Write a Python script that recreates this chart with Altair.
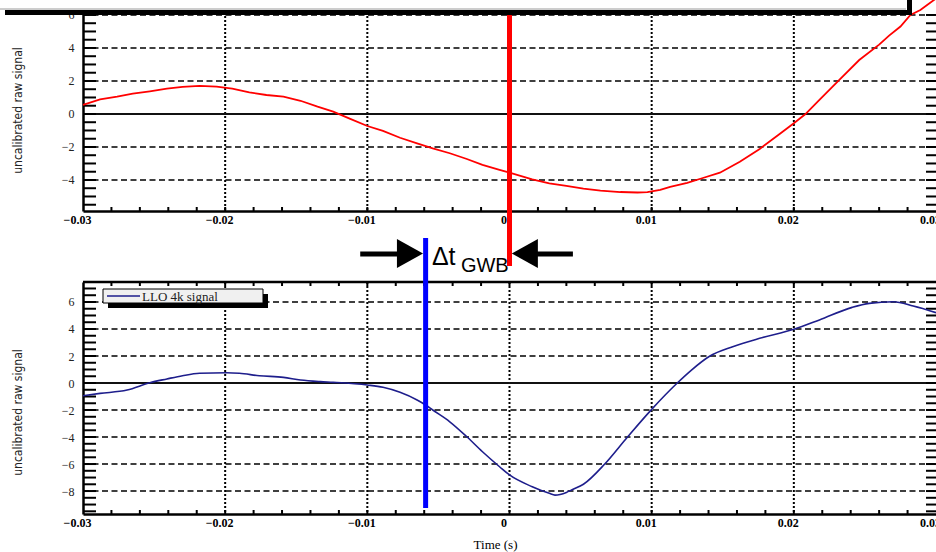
import altair as alt
import numpy as np
import pandas as pd

# ---------------- data ----------------
lho_t = [-0.0300, -0.0288, -0.0276, -0.0265, -0.0253, -0.0241, -0.0230, -0.0218, -0.0206, -0.0195,
         -0.0183, -0.0171, -0.0159, -0.0147, -0.0135, -0.0124, -0.0112, -0.0100, -0.0089, -0.0077,
         -0.0065, -0.0054, -0.0042, -0.0030, -0.0019, -0.0007, 0.0000, 0.0016, 0.0028, 0.0040,
         0.0052, 0.0064, 0.0078, 0.0090, 0.0097, 0.0101, 0.0106, 0.0113, 0.0125, 0.0136,
         0.0148, 0.0162, 0.0176, 0.0190, 0.0200, 0.0208, 0.0218, 0.0232, 0.0246, 0.0260,
         0.0267, 0.0275, 0.0282, 0.0289, 0.0300]
lho_v = [0.55, 0.89, 1.05, 1.23, 1.37, 1.53, 1.64, 1.70, 1.66, 1.53,
         1.31, 1.15, 1.05, 0.80, 0.44, 0.14, -0.30, -0.73, -1.03, -1.44,
         -1.78, -2.08, -2.38, -2.73, -3.09, -3.39, -3.56, -3.96, -4.20, -4.36,
         -4.53, -4.65, -4.73, -4.76, -4.74, -4.68, -4.60, -4.42, -4.18, -3.88,
         -3.56, -2.90, -2.12, -1.21, -0.56, -0.02, 0.85, 2.06, 3.27, 4.20,
         4.75, 5.30, 6.00, 6.30, 7.00]

llo_t = [-0.0300, -0.0288, -0.0269, -0.0253, -0.0241, -0.0230, -0.0218, -0.0199, -0.0190, -0.0176,
         -0.0159, -0.0147, -0.0133, -0.0124, -0.0100, -0.0089, -0.0077, -0.0065, -0.0059, -0.0054,
         -0.0042, -0.0030, -0.0019, -0.0007, 0.0000, 0.0016, 0.0028, 0.0032, 0.0040, 0.0044,
         0.0052, 0.0067, 0.0083, 0.0100, 0.0118, 0.0128, 0.0141, 0.0157, 0.0176, 0.0200,
         0.0218, 0.0241, 0.0253, 0.0270, 0.0284, 0.0300]
llo_v = [-0.94, -0.77, -0.52, 0.02, 0.30, 0.54, 0.72, 0.76, 0.72, 0.54,
         0.42, 0.22, 0.10, 0.05, -0.15, -0.32, -0.69, -1.26, -1.63, -2.00,
         -2.87, -3.98, -5.09, -6.20, -6.81, -7.68, -8.17, -8.30, -8.10, -7.90,
         -7.50, -6.00, -4.00, -1.95, 0.00, 0.96, 2.00, 2.69, 3.31, 3.98,
         4.67, 5.60, 5.90, 6.02, 5.70, 5.21]

t_lho_marker = 0.0
t_llo_marker = -0.0059

x_label_values = [-0.03, -0.02, -0.01, 0.0, 0.01, 0.02, 0.03]
x_grid_values = [-0.02, -0.01, 0.0, 0.01, 0.02]
y_top_labels = [-4, -2, 0, 2, 4, 6]
y_top_grid = [-4, -2, 2, 4, 6]
y_bot_labels = [-8, -6, -4, -2, 0, 2, 4, 6]
y_bot_grid = [-8, -6, -4, -2, 2, 4, 6]
y_top_ticks = np.round(np.arange(-5.5, 6.01, 0.5), 2).tolist()
y_bot_ticks = np.round(np.arange(-9.5, 7.01, 0.5), 2).tolist()
x_minor_ticks = np.round(np.arange(-0.028, 0.0281, 0.002), 4).tolist()

legend_label = "LLO 4k signal"
y_title = "uncalibrated raw signal"
x_title = "Time (s)"
delta_text = "Δt"
delta_sub = "GWB"

# ---------------- layout ----------------
W, H = 936, 552
L, R = 83, 936
TOP_T, TOP_B = 12, 211
BOT_T, BOT_B = 282, 514
RED = "#ff0000"
NAVY = "#1e1e8c"
BLUE = "#0000ff"

xs = alt.Scale(domain=[-0.03, 0.03], range=[L, R], nice=False, zero=False)
ys_top = alt.Scale(domain=[-5.88, 6.18], range=[TOP_B, TOP_T], nice=False, zero=False)
ys_bot = alt.Scale(domain=[-9.70, 7.48], range=[BOT_B, BOT_T], nice=False, zero=False)

one = pd.DataFrame({"a": [0]})


def y_axis(values, title_y):
    return alt.Axis(orient="left", offset=-L, values=values, format="d", grid=False, ticks=False,
                    domain=True, domainColor="black", domainWidth=2.5,
                    labelFont="Liberation Serif", labelFontSize=12, labelColor="#222",
                    labelPadding=9, labelFlush=False,
                    title=y_title, titleFont="DejaVu Sans Condensed", titleFontSize=12,
                    titleFontWeight="normal", titleColor="#222", titleAngle=270,
                    titleAlign="center", titleBaseline="middle", titleX=17 - L, titleY=title_y)


def x_axis(offset, title=None):
    kw = dict(orient="bottom", offset=offset, values=x_label_values, format=".2~f",
              grid=False, ticks=False, domain=True, domainColor="black", domainWidth=2.5,
              labelFont="Liberation Serif", labelFontSize=12, labelFontWeight="bold",
              labelColor="black", labelPadding=3, labelOffset=-6, labelFlush=False)
    if title:
        kw.update(title=title, titleFont="Liberation Serif", titleFontSize=13,
                  titleFontWeight="normal", titleColor="black", titleX=495, titleY=34.5,
                  titleAlign="center", titleBaseline="alphabetic")
    else:
        kw.update(title="")
    return alt.Axis(**kw)


def build_panel(xa, ya, ys, top, bottom, grid_vals, tick_vals, top_ticks):
    X = lambda f: alt.X(f, scale=xs, axis=xa)
    Y = lambda f: alt.Y(f, scale=ys, axis=ya)
    hgrid = alt.Chart(pd.DataFrame({"v": grid_vals})).mark_rule(
        color="black", strokeWidth=1.5, strokeDash=[6, 3.5]).encode(
        y=Y("v:Q"), x=alt.value(L), x2=alt.value(R))
    vgrid = alt.Chart(pd.DataFrame({"t": x_grid_values})).mark_rule(
        color="black", strokeWidth=2, strokeDash=[2, 2]).encode(
        x=X("t:Q"), y=alt.value(top), y2=alt.value(bottom))
    zero = alt.Chart(pd.DataFrame({"v": [0]})).mark_rule(color="#111", strokeWidth=1.8).encode(
        y=Y("v:Q"), x=alt.value(L), x2=alt.value(R))
    lt = alt.Chart(pd.DataFrame({"v": tick_vals})).mark_rule(color="black", strokeWidth=2).encode(
        y=Y("v:Q"), x=alt.value(L), x2=alt.value(L + 13))
    rt = alt.Chart(pd.DataFrame({"v": tick_vals})).mark_rule(color="black", strokeWidth=2).encode(
        y=Y("v:Q"), x=alt.value(R - 10), x2=alt.value(R))
    bt = alt.Chart(pd.DataFrame({"t": x_minor_ticks})).mark_rule(color="black", strokeWidth=2).encode(
        x=X("t:Q"), y=alt.value(bottom - 4), y2=alt.value(bottom))
    layers = [hgrid, vgrid, zero, lt, rt, bt]
    if top_ticks:
        tt = alt.Chart(pd.DataFrame({"t": x_minor_ticks})).mark_rule(color="black", strokeWidth=2).encode(
            x=X("t:Q"), y=alt.value(top), y2=alt.value(top + 4))
        border = alt.Chart(one).mark_rule(color="black", strokeWidth=2.5).encode(
            x=alt.value(L), x2=alt.value(R), y=alt.value(top))
        layers += [tt, border]
    return layers, X, Y


# ---------------- top panel (LHO, red) ----------------
top_layers, TX, TY = build_panel(x_axis(TOP_B - H), y_axis(y_top_labels, 110), ys_top,
                                 TOP_T, TOP_B, y_top_grid, y_top_ticks, False)
top_curve = alt.Chart(pd.DataFrame({"t": lho_t, "v": lho_v})).mark_line(
    color=RED, strokeWidth=1.8).encode(x=TX("t:Q"), y=TY("v:Q"))
red_marker = alt.Chart(pd.DataFrame({"t": [t_lho_marker]})).mark_rule(
    color=RED, strokeWidth=5).encode(x=TX("t:Q"), y=alt.value(14), y2=alt.value(266))
box_shadow = alt.Chart(one).mark_rect(color="black").encode(
    x=alt.value(5), x2=alt.value(912), y=alt.value(-30), y2=alt.value(15))
box_body = alt.Chart(one).mark_rect(color="white").encode(
    x=alt.value(-5), x2=alt.value(907), y=alt.value(-30), y2=alt.value(10))
box_line = alt.Chart(one).mark_rule(color="#9a9a9a", strokeWidth=1).encode(
    x=alt.value(0), x2=alt.value(906), y=alt.value(9))
top = alt.layer(*top_layers, top_curve, red_marker, box_shadow, box_body, box_line)

# ---------------- bottom panel (LLO, navy) ----------------
bot_layers, BX, BY = build_panel(x_axis(BOT_B - H, x_title), y_axis(y_bot_labels, 412), ys_bot,
                                 BOT_T, BOT_B, y_bot_grid, y_bot_ticks, True)
bot_curve = alt.Chart(pd.DataFrame({"t": llo_t, "v": llo_v})).mark_line(
    color=NAVY, strokeWidth=1.6, interpolate="monotone").encode(x=BX("t:Q"), y=BY("v:Q"))
blue_marker = alt.Chart(pd.DataFrame({"t": [t_llo_marker]})).mark_rule(
    color=BLUE, strokeWidth=5).encode(x=BX("t:Q"), y=alt.value(238), y2=alt.value(508))

leg_shadow = alt.Chart(one).mark_rect(color="black").encode(
    x=alt.value(108), x2=alt.value(268), y=alt.value(294), y2=alt.value(308))
leg_box = alt.Chart(one).mark_rect(fill="#f0f0f0", stroke="black", strokeWidth=1).encode(
    x=alt.value(103), x2=alt.value(263), y=alt.value(289), y2=alt.value(303))
leg_line = alt.Chart(one).mark_rule(color=NAVY, strokeWidth=1.6).encode(
    x=alt.value(107), x2=alt.value(140), y=alt.value(296))
leg_text = alt.Chart(pd.DataFrame({"txt": [legend_label]})).mark_text(
    font="Liberation Serif", fontSize=13, color="#222", align="left", baseline="middle").encode(
    x=alt.value(142), y=alt.value(296.5), text="txt:N")

arrow_shafts = alt.Chart(pd.DataFrame({
    "a": [t_llo_marker - 0.0046, t_lho_marker + 0.0019],
    "b": [t_llo_marker - 0.0019, t_lho_marker + 0.00446]})).mark_rule(
    color="black", strokeWidth=5).encode(x=BX("a:Q"), x2="b:Q", y=alt.value(254))
head_r = alt.Chart(pd.DataFrame({"t": [t_llo_marker - 0.0011]})).mark_point(
    shape="M -0.9 -1 L 0.9 0 L -0.9 1 Z", size=841, filled=True, color="black",
    opacity=1, strokeWidth=0).encode(x=BX("t:Q"), y=alt.value(253.5))
head_l = alt.Chart(pd.DataFrame({"t": [t_lho_marker + 0.00108]})).mark_point(
    shape="M 0.9 -1 L -0.9 0 L 0.9 1 Z", size=841, filled=True, color="black",
    opacity=1, strokeWidth=0).encode(x=BX("t:Q"), y=alt.value(253.5))
dt_text = alt.Chart(pd.DataFrame({"t": [t_llo_marker + 0.00044], "txt": [delta_text]})).mark_text(
    font="Liberation Sans", fontSize=25, color="black", align="left", baseline="alphabetic").encode(
    x=BX("t:Q"), y=alt.value(265), text="txt:N")
sub_text = alt.Chart(pd.DataFrame({"t": [t_llo_marker + 0.00248], "txt": [delta_sub]})).mark_text(
    font="Liberation Sans", fontSize=20, color="black", align="left", baseline="alphabetic").encode(
    x=BX("t:Q"), y=alt.value(272), text="txt:N")

bot = alt.layer(*bot_layers, bot_curve, blue_marker, leg_shadow, leg_box, leg_line, leg_text,
                arrow_shafts, head_r, head_l, dt_text, sub_text)

chart = alt.layer(top, bot).resolve_scale(x="independent", y="independent").properties(
    width=W, height=H, autosize=alt.AutoSizeParams(type="none"), padding=0,
    background="white").configure_view(stroke=None)

chart.save("out.html", embed_options={"renderer": "svg", "actions": False})
